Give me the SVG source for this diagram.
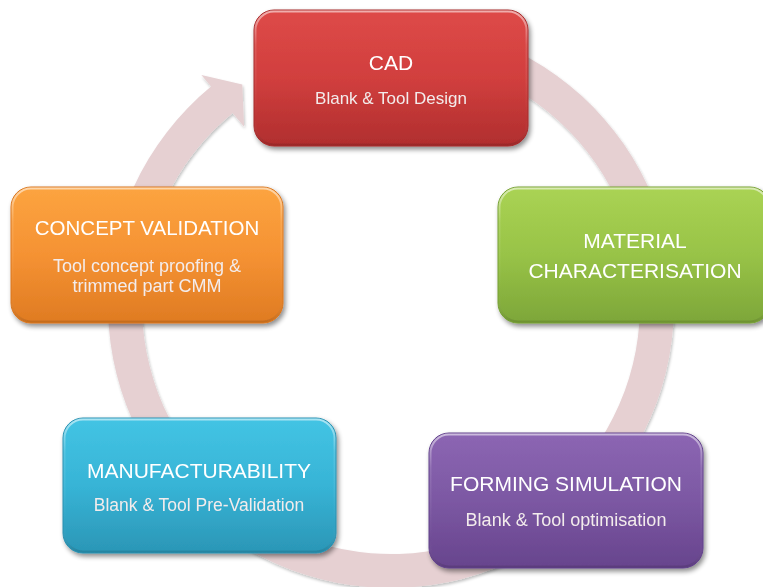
<svg xmlns="http://www.w3.org/2000/svg" width="763" height="587" viewBox="0 0 763 587">
<style>
  .title { font-family: "Liberation Sans", Arial, sans-serif; font-size: 21px; fill: #ffffff; text-anchor: middle; }
  .sub { font-family: "Liberation Sans", Arial, sans-serif; font-size: 17.5px; fill: #f3ecec; text-anchor: middle; }
  .box { filter: url(#shadow); }
  .hl { fill: none; stroke: url(#gHl); stroke-width: 2; }
</style>
<defs>
  <filter id="shadow" x="-10%" y="-10%" width="125%" height="130%">
    <feGaussianBlur in="SourceAlpha" stdDeviation="2.5"/>
    <feOffset dx="2" dy="3" result="b"/>
    <feComponentTransfer><feFuncA type="linear" slope="0.45"/></feComponentTransfer>
    <feMerge><feMergeNode/><feMergeNode in="SourceGraphic"/></feMerge>
  </filter>
  <filter id="ringShadow" x="-10%" y="-10%" width="120%" height="120%">
    <feGaussianBlur in="SourceAlpha" stdDeviation="1.5"/>
    <feOffset dx="1" dy="2" result="b"/>
    <feComponentTransfer><feFuncA type="linear" slope="0.25"/></feComponentTransfer>
    <feMerge><feMergeNode/><feMergeNode in="SourceGraphic"/></feMerge>
  </filter>
  <linearGradient id="gHl" x1="0" y1="0" x2="0" y2="1">
    <stop offset="0" stop-color="#ffffff" stop-opacity="0.55"/>
    <stop offset="0.25" stop-color="#ffffff" stop-opacity="0.12"/>
    <stop offset="0.8" stop-color="#ffffff" stop-opacity="0"/>
    <stop offset="1" stop-color="#000000" stop-opacity="0.12"/>
  </linearGradient>
  <linearGradient id="gRed" x1="0" y1="0" x2="0" y2="1">
    <stop offset="0" stop-color="#de4a48"/>
    <stop offset="0.5" stop-color="#d13f3e"/>
    <stop offset="1" stop-color="#b02e2e"/>
  </linearGradient>
  <linearGradient id="gGreen" x1="0" y1="0" x2="0" y2="1">
    <stop offset="0" stop-color="#aad354"/>
    <stop offset="0.5" stop-color="#98c347"/>
    <stop offset="1" stop-color="#7da639"/>
  </linearGradient>
  <linearGradient id="gOrange" x1="0" y1="0" x2="0" y2="1">
    <stop offset="0" stop-color="#fca440"/>
    <stop offset="0.5" stop-color="#f59233"/>
    <stop offset="1" stop-color="#df7b22"/>
  </linearGradient>
  <linearGradient id="gCyan" x1="0" y1="0" x2="0" y2="1">
    <stop offset="0" stop-color="#43c4e4"/>
    <stop offset="0.5" stop-color="#37b4d6"/>
    <stop offset="1" stop-color="#2b96b6"/>
  </linearGradient>
  <linearGradient id="gPurple" x1="0" y1="0" x2="0" y2="1">
    <stop offset="0" stop-color="#8c66b3"/>
    <stop offset="0.5" stop-color="#7c58a3"/>
    <stop offset="1" stop-color="#67448d"/>
  </linearGradient>
</defs>
<rect width="763" height="587" fill="#ffffff"/>

<g id="connectors">
  <path id="cycle-arrow" d="M440.1,26.3 A283,283 0 1 1 211.0,86.6 L201.4,75.1 L242.3,84.5 L244.1,126.8 L232.6,112.9 A249,249 0 1 0 434.2,59.8 Z" fill="#e6d0d2" filter="url(#ringShadow)"/>
</g>

<g id="cad" class="box">
  <rect x="254" y="10" width="274" height="136" rx="20" fill="url(#gRed)" stroke="#a52c2c" stroke-width="1"/>
  <rect x="255.5" y="11.5" width="271" height="133" rx="18.5" class="hl"/>
  <text class="title" x="391" y="69.5">CAD</text>
  <text class="sub" x="391" y="104" style="font-size:17px">Blank &amp; Tool Design</text>
</g>

<g id="material" class="box">
  <rect x="498" y="187" width="272" height="136" rx="20" fill="url(#gGreen)" stroke="#76a035" stroke-width="1"/>
  <rect x="499.5" y="188.5" width="269" height="133" rx="18.5" class="hl"/>
  <text class="title" x="635" y="247.5">MATERIAL</text>
  <text class="title" x="635" y="277.5">CHARACTERISATION</text>
</g>

<g id="concept" class="box">
  <rect x="11" y="187" width="272" height="136" rx="20" fill="url(#gOrange)" stroke="#d9761f" stroke-width="1"/>
  <rect x="12.5" y="188.5" width="269" height="133" rx="18.5" class="hl"/>
  <text class="title" x="147" y="234.5" style="font-size:20.5px">CONCEPT VALIDATION</text>
  <text class="sub" x="147" y="271.5" style="font-size:18px">Tool concept proofing &amp;</text>
  <text class="sub" x="147" y="291.5" style="font-size:18px">trimmed part CMM</text>
</g>

<g id="manufacturability" class="box">
  <rect x="63" y="418" width="273" height="135" rx="20" fill="url(#gCyan)" stroke="#2a90b0" stroke-width="1"/>
  <rect x="64.5" y="419.5" width="270" height="132" rx="18.5" class="hl"/>
  <text class="title" x="199" y="477.5">MANUFACTURABILITY</text>
  <text class="sub" x="199" y="511">Blank &amp; Tool Pre-Validation</text>
</g>

<g id="forming" class="box">
  <rect x="429" y="433" width="274" height="135" rx="20" fill="url(#gPurple)" stroke="#61418a" stroke-width="1"/>
  <rect x="430.5" y="434.5" width="271" height="132" rx="18.5" class="hl"/>
  <text class="title" x="566" y="490.5">FORMING SIMULATION</text>
  <text class="sub" x="566" y="525.5" style="font-size:18px">Blank &amp; Tool optimisation</text>
</g>
</svg>
